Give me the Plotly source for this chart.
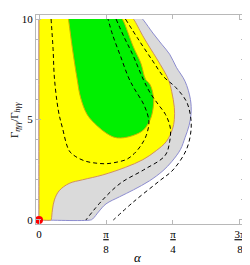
import plotly.graph_objects as go

# alpha in units of pi/8, ratio = Gamma_eta_gg / Gamma_h_gg
gray_alpha = [0, 0, 0, 0.03, 0.77, 0.80, 0.9, 1.0, 1.2, 1.41, 1.65, 1.85, 1.98, 2.11, 2.18, 2.24, 2.27, 2.26, 2.18, 2.05, 1.95, 1.83, 1.70, 1.57, 1.545]
gray_ratio = [10, 0.05, 0, 0, 0, 0.05, 0.45, 0.8, 1.15, 1.5, 1.95, 2.45, 2.9, 3.5, 4.1, 4.7, 5.3, 6.0, 6.9, 7.6, 8.25, 8.75, 9.3, 9.9, 10]

yellow_alpha = [0, 0, 0, 0.03, 0.18, 0.185, 0.2, 0.23, 0.3, 0.45, 0.65, 0.95, 1.29, 1.55, 1.75, 1.90, 1.99, 2.02, 2.02, 1.98, 1.93, 1.77, 1.65, 1.56, 1.43, 1.41]
yellow_ratio = [10, 0.05, 0, 0, 0, 0.05, 0.5, 1.0, 1.45, 1.82, 2.0, 2.24, 2.62, 3.0, 3.45, 3.9, 4.5, 5.0, 5.6, 6.4, 7.0, 7.96, 8.6, 9.1, 9.9, 10]

green_alpha = [0.44, 0.50, 0.57, 0.62, 0.72, 0.87, 1.0, 1.12, 1.22, 1.4, 1.56, 1.66, 1.70, 1.71, 1.66, 1.59, 1.52, 1.41, 1.26, 1.24]
green_ratio = [10, 8.5, 7.0, 6.1, 5.24, 4.68, 4.33, 4.12, 4.08, 4.2, 4.48, 5.0, 5.5, 6.07, 6.72, 7.0, 7.8, 8.6, 9.9, 10]

dashA_alpha = [0.18, 0.21, 0.23, 0.29, 0.35, 0.45, 0.55, 0.70, 0.85, 1.0, 1.15, 1.31, 1.42, 1.52, 1.60, 1.64, 1.57, 1.42, 1.34, 1.22, 1.10, 1.03]
dashA_ratio = [10, 8.5, 7.06, 5.42, 4.58, 3.45, 3.15, 2.92, 2.83, 2.8, 2.87, 3.02, 3.3, 3.7, 4.2, 4.9, 5.7, 6.55, 7.06, 8.12, 9.2, 10]

dashB_alpha = [1.15, 1.27, 1.39, 1.56, 1.66, 1.78, 1.89, 1.96, 1.95, 1.88, 1.56, 1.22, 0.95, 0.70]
dashB_ratio = [10, 9.1, 8.29, 6.97, 6.32, 5.75, 5.24, 4.58, 3.9, 3.2, 2.49, 1.84, 1.0, 0]

dashC_alpha = [1.29, 1.5, 1.7, 1.86, 2.04, 2.2, 2.26, 2.27, 2.2, 2.0, 1.8, 1.41, 1.11]
dashC_ratio = [10, 8.9, 7.9, 7.13, 6.6, 5.9, 5.2, 4.5, 3.5, 2.49, 1.95, 0.9, 0]

point_alpha = [0]
point_ratio = [0]

x_tickvals = [0, 1, 2, 3]
x_ticktext = ["0", "<u>π</u><br>8", "<u>π</u><br>4", "<u>3π</u><br>8"]
y_tickvals = [0, 5, 10]

fig = go.Figure()

def region(xs, ys, fill, edge):
    fig.add_trace(go.Scatter(x=xs, y=ys, mode="lines", fill="toself", fillcolor=fill,
                             line=dict(color=edge, width=1, shape="spline", smoothing=1),
                             hoverinfo="skip", showlegend=False))

region(gray_alpha, gray_ratio, "#dadada", "#8c8cd0")
region(yellow_alpha, yellow_ratio, "#ffff00", "#d09060")
region(green_alpha, green_ratio, "#00f000", "#c8b400")

for xs, ys in [(dashA_alpha, dashA_ratio), (dashB_alpha, dashB_ratio), (dashC_alpha, dashC_ratio)]:
    fig.add_trace(go.Scatter(x=xs, y=ys, mode="lines",
                             line=dict(color="black", width=1, dash="4px,3px", shape="spline", smoothing=1),
                             hoverinfo="skip", showlegend=False))

fig.add_trace(go.Scatter(x=point_alpha, y=point_ratio, mode="markers",
                         marker=dict(color="red", size=8), cliponaxis=False,
                         hoverinfo="skip", showlegend=False))

axis_font = dict(family="Liberation Serif", size=11, color="black")
frame = "#b8b8b8"
fig.update_xaxes(range=[-0.045, 3.06], tickvals=x_tickvals, ticktext=x_ticktext, automargin=False,
                 ticks="inside", ticklen=4, tickcolor=frame, showline=True, linecolor=frame,
                 linewidth=1, mirror="ticks", showgrid=False, zeroline=False, tickfont=axis_font)
fig.update_yaxes(range=[-0.2, 10.2], tickvals=y_tickvals, automargin=False,
                 ticks="inside", ticklen=5, tickcolor=frame, showline=True, linecolor=frame,
                 linewidth=1, mirror="ticks", showgrid=False, zeroline=False, tickfont=axis_font,
                 minor=dict(dtick=1, ticks="inside", ticklen=3, tickcolor=frame, showgrid=False))

fig.add_annotation(text="Γ<sub><i>ηγγ</i></sub>/Γ<sub><i>hγγ</i></sub>", xref="paper", yref="paper",
                   x=-0.103, y=0.5, xanchor="center", yanchor="middle", textangle=-90, showarrow=False,
                   font=dict(family="Liberation Serif", size=11, color="black"))
fig.add_annotation(text="<i>α</i>", xref="paper", yref="paper", x=0.49, y=-0.16,
                   xanchor="center", yanchor="middle",
                   showarrow=False, font=dict(family="Liberation Serif", size=13, color="black"))

# the page body adds an 8px offset; margins compensate so the frame sits where the reference has it
fig.update_layout(width=250, height=265, margin=dict(l=28, r=14, t=7, b=49),
                  paper_bgcolor="white", plot_bgcolor="white")

fig.write_html("out.html")
